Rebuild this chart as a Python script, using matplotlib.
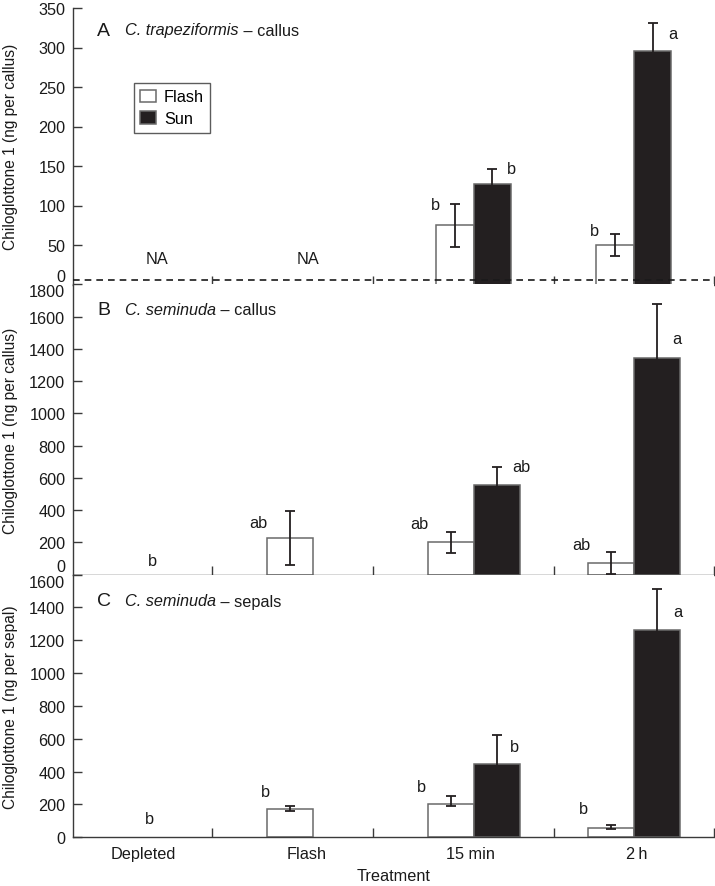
import numpy as np
import matplotlib
matplotlib.use("Agg")
import matplotlib.pyplot as plt
from matplotlib.patches import Patch

plt.rcParams['font.family'] = ['Liberation Sans', 'DejaVu Sans']
FS = 11.7
plt.rcParams['font.size'] = FS

# ---------------- data ----------------
groups = ['Depleted', 'Flash', '15 min', '2\u2009h']
nan = np.nan

# Panel A: C. trapeziformis - callus (ng per callus)
A_flash = [nan, nan, 75, 50]
A_flash_err_lo = [nan, nan, 27, 14.5]
A_flash_err_hi = [nan, nan, 27, 14.5]
A_sun = [nan, nan, 127, 296]
A_sun_err = [nan, nan, 19, 35]
A_flash_letters = ['', '', 'b', 'b']
A_sun_letters = ['', '', 'b', 'a']
A_na = ['NA', 'NA', '', '']
A_dashed_level = 5.5

# Panel B: C. seminuda - callus (ng per callus)
B_flash = [nan, 225, 200, 70]
B_flash_err_lo = [nan, 168, 65, 68]
B_flash_err_hi = [nan, 168, 65, 68]
B_sun = [nan, nan, 553, 1341]
B_sun_err = [nan, nan, 117, 340]
B_flash_letters = ['b', 'ab', 'ab', 'ab']
B_sun_letters = ['', '', 'ab', 'a']

# Panel C: C. seminuda - sepals (ng per sepal)
C_flash = [nan, 175, 202, 58]
C_flash_err_lo = [nan, 17, 10, 8]
C_flash_err_hi = [nan, 17, 48, 17]
C_sun = [nan, nan, 445, 1260]
C_sun_err = [nan, nan, 175, 250]
C_flash_letters = ['b', 'b', 'b', 'b']
C_sun_letters = ['', '', 'b', 'a']

# ---------------- style ----------------
DPI = 100
fig = plt.figure(figsize=(7.15, 8.87), dpi=DPI)
L, R = 73 / 715, 714 / 715
H = 887
def yb(px):
    return 1 - px / H

boxes = [(yb(285.5), yb(9)), (yb(575.5), yb(285.5)), (yb(838.3), yb(575.5))]
axes = [fig.add_axes([L, b, R - L, t - b]) for b, t in boxes]

SUN = '#231f20'
EDGE = '#6a6a6a'
SPINE = '#3a3a3a'
TXT = '#1a1a1a'
x = np.arange(len(groups))
sep_ticks = [0.37, 1.37, 2.5, 3.5]
label_pos = [-0.06, 0.96, 1.98, 3.02]

# letter offsets (pixels): dx from outer bar edge, dy above error top
letter_off = {
    'A': {'flash': [(0, 0), (0, 0), (-1, -1), (-2, 3)],
          'sun': [(0, 0), (0, 0), (0, 1), (1, -10)]},
    'B': {'flash': [(-1, 14), (-9, -11), (-8, 8), (-7, 8)],
          'sun': [(0, 0), (0, 0), (2, 0), (-3, -35)]},
    'C': {'flash': [(-4, 19), (-2, 14), (-6, 10), (-4, 16)],
          'sun': [(0, 0), (0, 0), (-5, -11), (-2, -22)]},
}

panels = [
    dict(key='A', species='C. trapeziformis', part='callus',
         ylabel='Chiloglottone 1 (ng per callus)', ylim=(0, 350), step=50,
         flash=A_flash, flo=A_flash_err_lo, fhi=A_flash_err_hi,
         sun=A_sun, serr=A_sun_err, fl=A_flash_letters, sl=A_sun_letters,
         width=0.234, title_dy=22),
    dict(key='B', species='C. seminuda', part='callus',
         ylabel='Chiloglottone 1 (ng per callus)', ylim=(0, 1800), step=200,
         flash=B_flash, flo=B_flash_err_lo, fhi=B_flash_err_hi,
         sun=B_sun, serr=B_sun_err, fl=B_flash_letters, sl=B_sun_letters,
         width=0.287, title_dy=25),
    dict(key='C', species='C. seminuda', part='sepals',
         ylabel='Chiloglottone 1 (ng per sepal)', ylim=(0, 1600), step=200,
         flash=C_flash, flo=C_flash_err_lo, fhi=C_flash_err_hi,
         sun=C_sun, serr=C_sun_err, fl=C_flash_letters, sl=C_sun_letters,
         width=0.287, title_dy=26.5),
]

for ax, p in zip(axes, panels):
    w = p['width']
    fl = np.array(p['flash'], float)
    sn = np.array(p['sun'], float)
    mask_f = ~np.isnan(fl)
    mask_s = ~np.isnan(sn)
    ax.bar((x - w / 2)[mask_f], fl[mask_f], width=w, color='white',
           edgecolor=EDGE, linewidth=1.1, zorder=2)
    ax.bar((x + w / 2)[mask_s], sn[mask_s], width=w, color=SUN,
           edgecolor=EDGE, linewidth=1.1, zorder=2)
    ax.errorbar((x - w / 2)[mask_f], fl[mask_f],
                yerr=[np.array(p['flo'])[mask_f], np.array(p['fhi'])[mask_f]],
                fmt='none', ecolor=SUN, elinewidth=1.3, capsize=3.5,
                capthick=1.3, zorder=3)
    ax.errorbar((x + w / 2)[mask_s], sn[mask_s],
                yerr=np.array(p['serr'])[mask_s],
                fmt='none', ecolor=SUN, elinewidth=1.3, capsize=3.5,
                capthick=1.3, zorder=3)

    off = letter_off[p['key']]
    for j in range(len(x)):
        lt = p['fl'][j]
        if lt:
            dx, dy = off['flash'][j]
            if mask_f[j]:
                xx = x[j] - w
                yy = fl[j] + p['fhi'][j]
            else:
                xx = x[j]
                yy = 0
            ax.annotate(lt, (xx, yy), xytext=(dx, dy),
                        textcoords='offset pixels', ha='center',
                        va='center', fontsize=FS, color=TXT)
        lt = p['sl'][j]
        if lt:
            dx, dy = off['sun'][j]
            ax.annotate(lt, (x[j] + w, sn[j] + p['serr'][j]), xytext=(dx, dy),
                        textcoords='offset pixels', ha='center',
                        va='center', fontsize=FS, color=TXT)

    if p['key'] == 'A':
        for j, t in enumerate(A_na):
            if t:
                ax.annotate(t, (x[j], 0), xytext=(4 if j == 0 else -5, 26),
                            textcoords='offset pixels', ha='center',
                            va='center', fontsize=FS, color=TXT)
        ax.axhline(A_dashed_level, color=TXT, lw=1.2,
                   dashes=(4, 3), zorder=4)
        handles = [Patch(facecolor='white', edgecolor=EDGE, linewidth=1.1),
                   Patch(facecolor=SUN, edgecolor=EDGE, linewidth=1.1)]
        leg = ax.legend(handles, ['Flash', 'Sun'], loc='upper left',
                        bbox_to_anchor=(0.095, 0.729),
                        frameon=True, fancybox=False, handlelength=0.95,
                        handleheight=0.8, handletextpad=0.5,
                        borderpad=0.4, labelspacing=0.42,
                        borderaxespad=0, fontsize=FS)
        leg.get_frame().set_edgecolor('#333333')
        leg.get_frame().set_linewidth(1.0)

    # panel title
    ax.annotate(p['key'], (0, 1), xycoords='axes fraction',
                xytext=(24, -p['title_dy']), textcoords='offset pixels',
                ha='left', va='center', fontsize=14, color=TXT)
    ax.annotate(p['species'], (0, 1), xycoords='axes fraction',
                xytext=(52, -p['title_dy']), textcoords='offset pixels',
                ha='left', va='center', fontsize=FS, style='italic',
                color=TXT)

    ax.set_xlim(-0.5, 3.5)
    ax.set_ylim(*p['ylim'])
    yt = np.arange(p['ylim'][0], p['ylim'][1] + 1, p['step'])
    ax.set_yticks(yt)
    ax.set_yticklabels([str(int(v)) for v in yt])
    ax.set_xticks(sep_ticks)
    ax.set_xticklabels([])
    ax.tick_params(axis='both', direction='in', length=6.5, width=1.0,
                   color=SPINE, pad=5.5, labelsize=FS, labelcolor=TXT)
    ax.tick_params(axis='x', which='minor', length=0)
    for s in ['top', 'right']:
        ax.spines[s].set_visible(False)
    for s in ['left', 'bottom']:
        ax.spines[s].set_color(SPINE)
        ax.spines[s].set_linewidth(1.0)
    ax.set_ylabel(p['ylabel'], fontsize=11.2, color=TXT)
    ax.yaxis.set_label_coords(-0.097, 0.5)

    labs = ax.get_yticklabels()
    if p['key'] in ('A', 'B'):
        labs[0].set_va('bottom')
    if p['key'] in ('B', 'C'):
        labs[-1].set_va('top')

# attach " – part" after the italic species name
fig.canvas.draw()
for ax, p in zip(axes, panels):
    ax.yaxis.label.set_va('center')
    t = [c for c in ax.texts if c.get_text() == p['species']][0]
    bb = t.get_window_extent()
    tr = ax.transAxes.inverted()
    x1 = tr.transform((bb.x1, bb.y0))[0]
    ax.annotate(' \u2013 ' + p['part'], (x1, 1), xycoords='axes fraction',
                xytext=(0, -p['title_dy']), textcoords='offset pixels',
                ha='left', va='center', fontsize=FS, color=TXT)

axC = axes[2]
axC.set_xticks(label_pos, minor=True)
axC.set_xticklabels(groups, minor=True)
axC.tick_params(axis='x', which='minor', length=0, pad=6, labelsize=FS,
                labelcolor=TXT)
axC.set_xlabel('Treatment', fontsize=FS, labelpad=5, color=TXT)

fig.savefig('out.png', dpi=DPI)
